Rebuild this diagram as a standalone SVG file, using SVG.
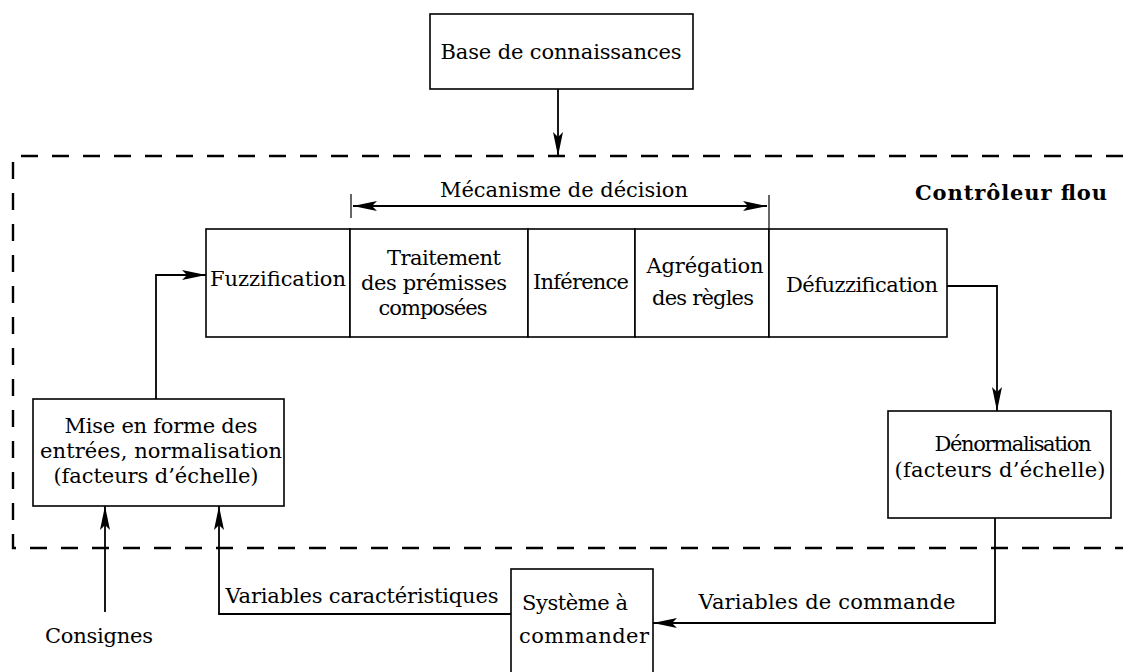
<svg xmlns="http://www.w3.org/2000/svg" width="1123" height="672" viewBox="0 0 1123 672">
<defs>
<marker id="ah" markerUnits="userSpaceOnUse" markerWidth="26" markerHeight="12" refX="24" refY="6" orient="auto-start-reverse">
<path d="M0,1 L24,6 L0,11 L5,6 z" fill="#000"/>
</marker>
<style>
.box{fill:#fff;stroke:#000;stroke-width:1.6}
.t{font-family:"DejaVu Serif","Liberation Serif",serif;font-size:21px;fill:#000;text-anchor:middle}
.b{font-weight:bold;text-anchor:start}
.arr{fill:none;stroke:#000;stroke-width:1.8;marker-end:url(#ah)}
.dash{fill:none;stroke:#000;stroke-width:2.4;stroke-dasharray:17 14}
.tick{stroke:#000;stroke-width:1.2}
</style>
</defs>
<rect width="1123" height="672" fill="#fff"/>

<g id="controleur-flou-frame">
<path class="dash" d="M1123,156 H13 V548 H1123"/>
<text class="t b" x="915" y="200" textLength="192">Contrôleur flou</text>
</g>

<g id="base-connaissances">
<rect class="box" x="430" y="14" width="263" height="75"/>
<text class="t" x="561" y="59" textLength="241">Base de connaissances</text>
</g>

<g id="mecanisme-decision">
<line class="tick" x1="351" y1="194" x2="351" y2="218"/>
<line class="tick" x1="769" y1="195" x2="769" y2="228"/>
<line x1="353" y1="206" x2="767" y2="206" stroke="#000" stroke-width="1.8" marker-start="url(#ah)" marker-end="url(#ah)"/>
<text class="t" x="564" y="197" textLength="248">Mécanisme de décision</text>
</g>

<g id="fuzzification">
<rect class="box" x="206" y="229" width="144" height="108"/>
<text class="t" x="278" y="286" textLength="136">Fuzzification</text>
</g>

<g id="traitement-premisses">
<rect class="box" x="350" y="229" width="178" height="108"/>
<text class="t" x="444" y="265" textLength="114">Traitement</text>
<text class="t" x="434" y="290" textLength="146">des prémisses</text>
<text class="t" x="433" y="315" textLength="109">composées</text>
</g>

<g id="inference">
<rect class="box" x="528" y="229" width="107" height="108"/>
<text class="t" x="581" y="289" textLength="96">Inférence</text>
</g>

<g id="agregation">
<rect class="box" x="635" y="229" width="134" height="108"/>
<text class="t" x="705" y="273" textLength="117">Agrégation</text>
<text class="t" x="703" y="305" textLength="102">des règles</text>
</g>

<g id="defuzzification">
<rect class="box" x="769" y="229" width="178" height="108"/>
<text class="t" x="862" y="292" textLength="152">Défuzzification</text>
</g>

<g id="mise-en-forme">
<rect class="box" x="33" y="399" width="251" height="107"/>
<text class="t" x="161" y="433" textLength="193">Mise en forme des</text>
<text class="t" x="161" y="458" textLength="242">entrées, normalisation</text>
<text class="t" x="156" y="483" textLength="205">(facteurs d’échelle)</text>
</g>

<g id="denormalisation">
<rect class="box" x="888" y="411" width="223" height="107"/>
<text class="t" x="1013" y="451" textLength="157">Dénormalisation</text>
<text class="t" x="1000" y="477" textLength="211">(facteurs d’échelle)</text>
</g>

<g id="systeme-a-commander">
<rect class="box" x="511" y="569" width="142" height="120"/>
<text class="t" x="575" y="610" textLength="106">Système à</text>
<text class="t" x="584" y="643" textLength="130">commander</text>
</g>

<g id="consignes">
<text class="t" x="99" y="643" textLength="108">Consignes</text>
</g>

<g id="connectors">
<path class="arr" d="M558,89 V156"/>
<path class="arr" d="M156,399 V275 H206"/>
<path class="arr" d="M947,286 H997 V411"/>
<path class="arr" d="M995,518 V623 H653"/>
<path class="arr" d="M511,614 H219 V506"/>
<path class="arr" d="M105,612 V506"/>
<text class="t" x="827" y="609" textLength="257">Variables de commande</text>
<text class="t" x="362" y="603" textLength="273">Variables caractéristiques</text>
</g>
</svg>
